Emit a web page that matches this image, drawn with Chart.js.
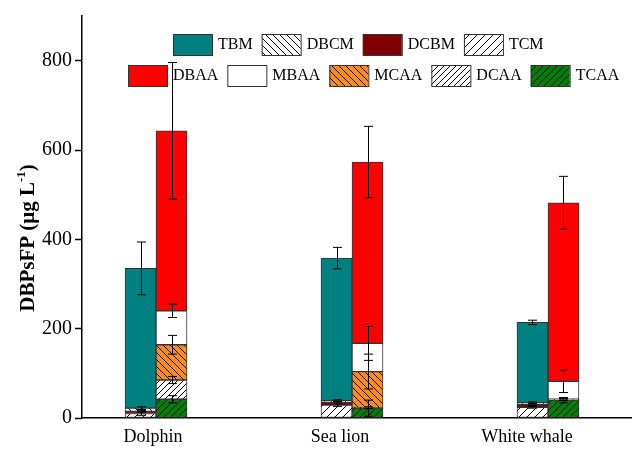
<!DOCTYPE html>
<html>
<head>
<meta charset="utf-8">
<script src="https://cdn.jsdelivr.net/npm/chart.js@4"></script>
<style>
  html, body { margin: 0; padding: 0; background: #fff; }
</style>
</head>
<body>
<canvas id="dbpChart" width="632" height="450"></canvas>
<script>
const categories = ["Dolphin", "Sea lion", "White whale"];

// trihalomethanes - left bar of each pair (ug/L)
const tbm  = [313, 319, 180];
const dbcm = [7, 4, 4];
const dcbm = [5, 6, 6];
const tcm  = [10, 29, 24];
// haloacetic acids - right bar
const dbaa = [403, 406, 400];
const mbaa = [76, 63, 40];
const mcaa = [79, 81, 1];
const dcaa = [43, 1, 1];
const tcaa = [42, 22, 40];

// +/- error, drawn at the top of each segment
const tbmErr  = [59, 24, 5];
const dbcmErr = [3, 2, 2];
const dcbmErr = [2, 2, 2];
const tcmErr  = [4, 3, 2];
const dbaaErr = [153, 80, 59];
const mbaaErr = [15, 38, 25];
const mcaaErr = [21, 39, 2];
const dcaaErr = [8, 2, 2];
const tcaaErr = [8, 18, 6];

const yTicks = [0, 200, 400, 600, 800];

const serif = "'Liberation Serif', 'Times New Roman', serif";

function hatch(bg, dir, s) {
    const c = document.createElement("canvas");
    c.width = s; c.height = s;
    const g = c.getContext("2d");
    g.fillStyle = bg;
    g.fillRect(0, 0, s, s);
    g.strokeStyle = "#000";
    g.lineWidth = 1;
    g.beginPath();
    if (dir === "/") {
        g.moveTo(0, s); g.lineTo(s, 0);
        g.moveTo(-1, 1); g.lineTo(1, -1);
        g.moveTo(s - 1, s + 1); g.lineTo(s + 1, s - 1);
    } else {
        g.moveTo(0, 0); g.lineTo(s, s);
        g.moveTo(-1, s - 1); g.lineTo(1, s + 1);
        g.moveTo(s - 1, -1); g.lineTo(s + 1, 1);
    }
    g.stroke();
    return g.createPattern(c, "repeat");
}

const fills = {
    TBM: "#008080",
    DBCM: hatch("#ffffff", "\\", 7),
    DCBM: "#800000",
    TCM: hatch("#ffffff", "/", 8),
    DBAA: "#ff0000",
    MBAA: "#ffffff",
    MCAA: hatch("#ff8c1a", "\\", 7),
    DCAA: hatch("#ffffff", "/", 6),
    TCAA: hatch("#008000", "/", 7)
};

// stacking order: first one sits at the bottom
const series = [
    { name: "TCM",  data: tcm,  err: tcmErr,  stack: "THM" },
    { name: "DCBM", data: dcbm, err: dcbmErr, stack: "THM" },
    { name: "DBCM", data: dbcm, err: dbcmErr, stack: "THM" },
    { name: "TBM",  data: tbm,  err: tbmErr,  stack: "THM" },
    { name: "TCAA", data: tcaa, err: tcaaErr, stack: "HAA" },
    { name: "DCAA", data: dcaa, err: dcaaErr, stack: "HAA" },
    { name: "MCAA", data: mcaa, err: mcaaErr, stack: "HAA" },
    { name: "MBAA", data: mbaa, err: mbaaErr, stack: "HAA" },
    { name: "DBAA", data: dbaa, err: dbaaErr, stack: "HAA" }
];

const legendRows = [
    { x: 173, y: 34, items: ["TBM", "DBCM", "DCBM", "TCM"] },
    { x: 128, y: 65, items: ["DBAA", "MBAA", "MCAA", "DCAA", "TCAA"] }
];

const extrasPlugin = {
    id: "extras",
    afterDatasetsDraw(chart) {
        const ctx = chart.ctx;
        const yScale = chart.scales.y;
        ctx.save();

        // legend
        ctx.font = "16px " + serif;
        ctx.textBaseline = "middle";
        legendRows.forEach(row => {
            let x = row.x;
            row.items.forEach(name => {
                ctx.fillStyle = fills[name];
                ctx.fillRect(x, row.y, 39, 21);
                ctx.strokeStyle = "#333";
                ctx.lineWidth = 1;
                ctx.strokeRect(x + 0.5, row.y + 0.5, 39, 21);
                ctx.fillStyle = "#000";
                ctx.fillText(name, x + 45, row.y + 11);
                x += 45 + ctx.measureText(name).width + 9;
            });
        });

        // y axis title with a real superscript
        ctx.save();
        ctx.translate(29, 238);
        ctx.rotate(-Math.PI / 2);
        ctx.fillStyle = "#000";
        ctx.textBaseline = "middle";
        const big = "bold 21px " + serif, small = "bold 13px " + serif;
        const parts = [["DBPsFP (μg L", big, 0], ["-1", small, -7], [")", big, 0]];
        let w = 0;
        parts.forEach(p => { ctx.font = p[1]; w += ctx.measureText(p[0]).width; });
        let tx = -w / 2;
        parts.forEach(p => {
            ctx.font = p[1];
            ctx.fillText(p[0], tx, p[2]);
            tx += ctx.measureText(p[0]).width;
        });
        ctx.restore();

        // error bars
        ctx.strokeStyle = "#000";
        ctx.lineWidth = 1;
        chart.data.datasets.forEach((ds, i) => {
            const meta = chart.getDatasetMeta(i);
            meta.data.forEach((bar, j) => {
                const e = Math.abs(yScale.getPixelForValue(ds.err[j]) - yScale.getPixelForValue(0));
                const x = Math.round(bar.x) + 0.5;
                const y1 = bar.y - e, y2 = bar.y + e;
                ctx.beginPath();
                ctx.moveTo(x, y1); ctx.lineTo(x, y2);
                ctx.moveTo(x - 4.5, y1); ctx.lineTo(x + 4.5, y1);
                ctx.moveTo(x - 4.5, y2); ctx.lineTo(x + 4.5, y2);
                ctx.stroke();
            });
        });
        ctx.restore();
    }
};

new Chart(document.getElementById("dbpChart").getContext("2d"), {
    type: "bar",
    data: {
        datasets: series.map(s => ({
            label: s.name,
            data: s.data.map((v, i) => ({ x: i, y: v })),
            err: s.err,
            stack: s.stack,
            backgroundColor: fills[s.name],
            borderColor: "#333",
            borderWidth: 1,
            borderSkipped: false,
            barThickness: 31
        }))
    },
    options: {
        responsive: false,
        animation: false,
        layout: { padding: { top: 16, right: 0, bottom: 0, left: 0 } },
        plugins: { legend: { display: false }, tooltip: { enabled: false } },
        scales: {
            x: {
                type: "linear",
                stacked: true,
                offset: false,
                min: -0.3776,
                max: 2.4286,
                grid: { display: false, drawTicks: false },
                border: { display: true, color: "#000", width: 1.5 },
                afterBuildTicks: s => {
                    s.ticks = categories.map((c, i) => ({ value: i * 0.954 - 0.015 }));
                },
                afterFit: s => { s.height = 32; },
                ticks: {
                    callback: (v, i) => categories[i],
                    autoSkip: false,
                    maxRotation: 0,
                    padding: 8,
                    color: "#000",
                    font: { family: serif, size: 18 }
                }
            },
            y: {
                stacked: true,
                min: 0,
                max: 900,
                afterBuildTicks: s => {
                    s.ticks = [];
                    for (let v = 0; v <= 900; v += 100) s.ticks.push({ value: v });
                },
                afterFit: s => { s.width = 82; },
                grid: {
                    drawOnChartArea: false,
                    tickLength: 7,
                    tickWidth: 1.5,
                    tickColor: c => yTicks.includes(c.tick.value) ? "#000" : "rgba(0,0,0,0)"
                },
                border: { display: true, color: "#000", width: 1.5 },
                ticks: {
                    autoSkip: false,
                    callback: v => yTicks.includes(v) ? v : "",
                    padding: 3,
                    color: "#000",
                    font: { family: serif, size: 20 }
                }
            }
        }
    },
    plugins: [extrasPlugin]
});
</script>
</body>
</html>
